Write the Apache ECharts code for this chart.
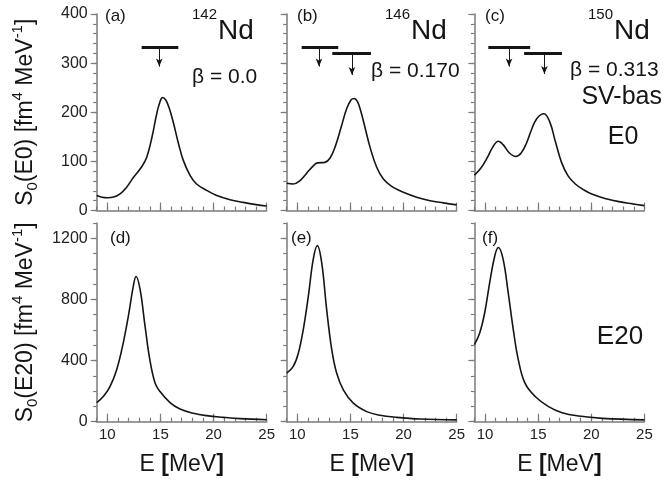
<!DOCTYPE html>
<html>
<head>
<meta charset="utf-8">
<script src="https://cdn.jsdelivr.net/npm/echarts@6/dist/echarts.min.js"></script>
<style>
html,body{margin:0;padding:0;background:#fff}
#chart{width:664px;height:482px}
</style>
</head>
<body>
<div id="chart"></div>
<script>
// strength functions, [E (MeV), S0]
const e0Nd142 = [[9,30.5],[9.5,27],[10,26],[10.6,27.5],[11.2,34],[11.8,47],[12.45,67],[13.2,88],[13.7,108],[14.2,149],[14.65,197],[14.95,221],[15.2,230],[15.5,225],[15.8,210],[16.2,180],[16.7,136],[17.15,102],[17.8,71],[18.4,54],[19.35,41],[20.3,30.5],[21.55,22],[22.8,16.5],[24,12],[25,9]];
const e0Nd146 = [[9,55.6],[9.6,54],[10.25,61],[10.88,76],[11.5,91],[11.9,97],[12.6,98],[13.08,107],[13.55,129],[14.17,173],[14.64,207],[15.05,225],[15.35,228],[15.65,222],[15.95,204],[16.37,169],[16.84,129],[17.47,88],[18.1,64],[18.88,49],[19.98,37],[21.23,27],[22.5,20],[23.75,15.5],[25,11.5]];
const e0Nd150 = [[9,72],[9.6,86],[10.2,107],[10.7,128],[11.25,141],[11.7,134],[12.3,117],[12.9,110],[13.4,117],[13.9,137],[14.4,166],[14.9,188],[15.55,197],[16.1,180],[16.6,142],[17.2,98],[17.8,71],[18.5,54],[19.3,42],[20.1,33],[21.4,24],[22.6,18],[23.9,13.5],[25,10]];
const e20Nd142 = [[9,125],[9.62,165],[10.25,230],[10.88,340],[11.5,516],[11.98,691],[12.45,889],[12.7,950],[13.08,867],[13.55,625],[14,406],[14.5,252],[14.96,197],[15.9,125],[16.84,83],[18.1,55],[19.35,39.5],[20.92,28.5],[22.5,20],[25,13]];
const e20Nd146 = [[9,318],[9.62,362],[10.1,450],[10.56,603],[11.04,823],[11.5,1064],[11.88,1152],[12.29,1042],[12.76,735],[13.24,472],[13.7,318],[14.33,208],[15.27,121],[16.53,66],[17.78,42],[19.35,28.5],[21.55,17.5],[25,12]];
const e20Nd150 = [[9,505],[9.5,581],[9.97,713],[10.44,910],[10.92,1086],[11.25,1140],[11.7,1064],[12.18,845],[12.66,603],[13.13,406],[13.76,252],[14.72,165],[15.98,99],[17.25,59],[18.83,37],[21.04,22],[25,12]];

// horizontal bars [E from, E to, S] and arrows [E, S top, S tip]
const bars142 = [[13.23,16.68,332]];
const arrows142 = [[14.89,332,293]];
const bars146 = [[10.41,13.85,332],[13.29,16.93,320]];
const arrows146 = [[12.04,332,293],[15.14,320,276]];
const bars150 = [[10.31,14.25,333],[13.68,17.24,321]];
const arrows150 = [[12.26,333,293],[15.59,321,278]];

const xTicks = [10,15,20,25];
const yTicksE0 = [0,100,200,300,400];
const yTicksE20 = [0,400,800,1200];

const FONT = 'Liberation Sans, Arial, sans-serif';
const AX = '#7a7a7a';
const INK = '#151515';

const lefts = [96.7, 286.7, 474.4];
const rows = [{top:14, height:196.5, max:400, ticks:yTicksE0, minor:20},
              {top:223, height:198.7, max:1300, ticks:yTicksE20, minor:100}];
const curves = [e0Nd142, e0Nd146, e0Nd150, e20Nd142, e20Nd146, e20Nd150];
const bars = [bars142, bars146, bars150];
const arrows = [arrows142, arrows146, arrows150];

var grid = [], xAxis = [], yAxis = [], series = [];
for (var r = 0; r < 2; r++) {
    for (var c = 0; c < 3; c++) {
        var i = r * 3 + c, row = rows[r];
        grid.push({left: lefts[c], top: row.top, width: 170, height: row.height, outerBoundsMode: 'none'});
        // main x axis (long ticks + labels)
        xAxis.push({
            gridIndex: i, type: 'value', min: 9, max: 25, position: 'bottom',
            axisLine: {show: true, onZero: false, lineStyle: {color: AX, width: 1.5}},
            axisTick: {show: true, inside: true, length: 8, customValues: xTicks, lineStyle: {color: AX, width: 1.2}},
            axisLabel: {show: r == 1, customValues: xTicks, fontSize: 15, color: '#222', margin: 6, fontFamily: FONT},
            splitLine: {show: false},
            name: r == 1 ? '{t|E }{b|[}{t|MeV}{b|]}' : '',
            nameLocation: 'middle', nameGap: 31,
            nameTextStyle: {rich: {
                t: {fontSize: 23, color: INK, fontFamily: FONT},
                b: {fontSize: 23, color: INK, fontFamily: FONT, fontWeight: 'bold'}
            }}
        });
        // minor x ticks every 1 MeV
        xAxis.push({
            gridIndex: i, type: 'value', min: 9, max: 25, interval: 1, position: 'bottom',
            axisLine: {show: false},
            axisTick: {show: true, inside: true, length: 4, lineStyle: {color: AX, width: 1.2}},
            axisLabel: {show: false}, splitLine: {show: false}
        });
        var yname = '';
        if (c == 0) {
            yname = '{m|S}{sub|0}{m|(' + (r == 0 ? 'E0' : 'E20') + ') [fm}{sup|4}{m| MeV}{sup|-1}{m|]}';
        }
        yAxis.push({
            gridIndex: i, type: 'value', min: 0, max: row.max, position: 'left',
            axisLine: {show: true, onZero: false, lineStyle: {color: AX, width: 1.5}},
            axisTick: {show: true, inside: false, length: 6, customValues: row.ticks, lineStyle: {color: AX, width: 1.2}},
            axisLabel: {show: c == 0, customValues: row.ticks, fontSize: 16, color: '#222', margin: 9, fontFamily: FONT,
                        formatter: function (v) { return String(v); }},
            splitLine: {show: false},
            name: yname, nameLocation: 'middle', nameRotate: 90, nameGap: 56,
            nameTextStyle: {rich: {
                m: {fontSize: 23, color: INK, fontFamily: FONT, lineHeight: 30},
                sub: {fontSize: 15, color: INK, fontFamily: FONT, verticalAlign: 'bottom', lineHeight: 30},
                sup: {fontSize: 15, color: INK, fontFamily: FONT, verticalAlign: 'top', lineHeight: 30}
            }}
        });
        yAxis.push({
            gridIndex: i, type: 'value', min: 0, max: row.max, interval: row.minor, position: 'left',
            axisLine: {show: false},
            axisTick: {show: true, inside: false, length: 3.5, lineStyle: {color: AX, width: 1.2}},
            axisLabel: {show: false}, splitLine: {show: false}
        });

        var ml = [];
        if (r == 0) {
            bars[c].forEach(function (b) {
                ml.push([{coord: [b[0], b[2]], symbol: 'none', lineStyle: {width: 3.2, color: INK}},
                         {coord: [b[1], b[2]], symbol: 'none'}]);
            });
            arrows[c].forEach(function (a) {
                ml.push([{coord: [a[0], a[1]], symbol: 'none', lineStyle: {width: 1, color: INK}},
                         {coord: [a[0], a[2]], symbol: 'arrow', symbolSize: [5, 8]}]);
            });
        }
        series.push({
            type: 'line', xAxisIndex: 2 * i, yAxisIndex: 2 * i,
            data: curves[i], showSymbol: false, symbol: 'none',
            smooth: 0.4,
            lineStyle: {color: INK, width: 1.6},
            markLine: {silent: true, symbol: ['none', 'none'], label: {show: false},
                       lineStyle: {color: INK, type: 'solid'}, data: ml}
        });
    }
}

function txt(x, y, s, size, align) {
    return {type: 'text', x: x, y: y, silent: true,
        style: {text: s, fontSize: size, fontFamily: FONT, fill: INK,
                align: align || 'left', verticalAlign: 'middle'}};
}

var graphic = [
    txt(105, 16, '(a)', 17), txt(297, 16, '(b)', 17), txt(485, 16, '(c)', 17),
    txt(110, 238, '(d)', 17), txt(291, 238, '(e)', 17), txt(482, 238, '(f)', 17),
    txt(217, 15, '142', 15, 'right'), txt(218, 31, 'Nd', 28),
    txt(410, 15, '146', 15, 'right'), txt(411, 31, 'Nd', 28),
    txt(613, 15, '150', 15, 'right'), txt(614, 31, 'Nd', 28),
    txt(192, 77, 'β = 0.0', 21), txt(371, 71, 'β = 0.170', 21), txt(570, 70, 'β = 0.313', 21),
    txt(662, 97, 'SV-bas', 25, 'right'), txt(623, 137, 'E0', 25, 'center'),
    txt(620, 337, 'E20', 26, 'center')
];

var chart = echarts.init(document.getElementById('chart'), null, {renderer: 'canvas'});
chart.setOption({
    animation: false,
    backgroundColor: '#fff',
    grid: grid, xAxis: xAxis, yAxis: yAxis, series: series,
    graphic: graphic
});
</script>
</body>
</html>
